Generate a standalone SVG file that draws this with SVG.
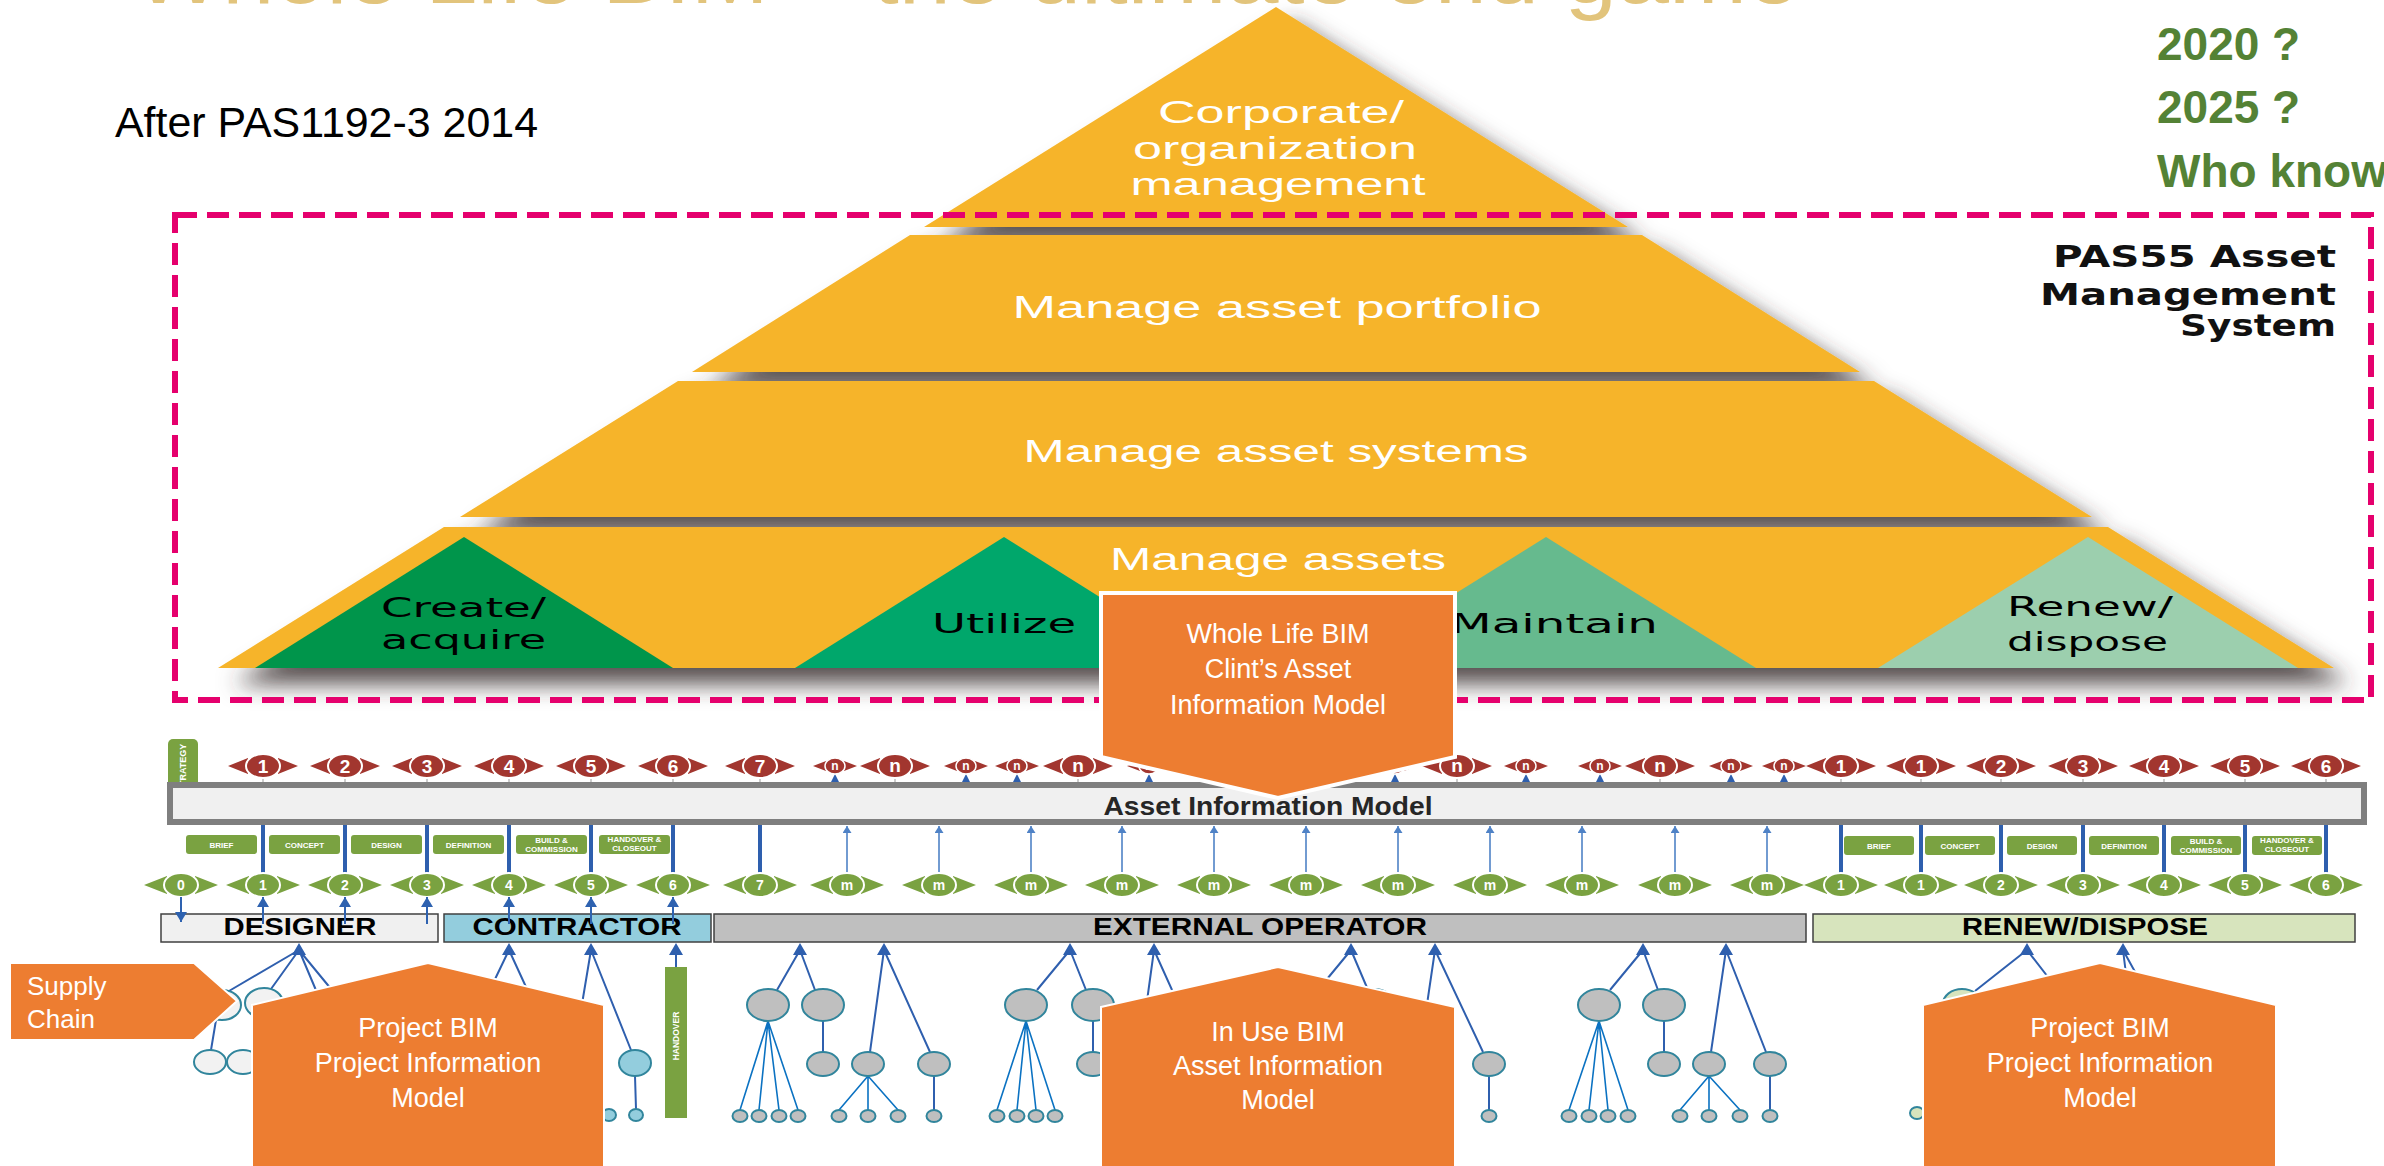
<svg xmlns="http://www.w3.org/2000/svg" width="2384" height="1166" viewBox="0 0 2384 1166">
<style>
.py{fill:#f6b42a}
.wt{fill:#fff;font-family:'Liberation Sans',Arial,sans-serif;font-size:31px}
.bk{fill:#000;font-family:'DejaVu Sans',Verdana,sans-serif;font-size:26px}
.pas{fill:#111;font-family:'DejaVu Sans',Verdana,sans-serif;font-size:30px;font-weight:bold;text-anchor:end}
.yr{fill:#548235;font-family:'Liberation Sans',Arial,sans-serif;font-size:46px;font-weight:bold}
.rn{fill:#fff;font-family:'Liberation Sans',Arial,sans-serif;font-size:19px;font-weight:bold;text-anchor:middle}
.rsn{fill:#fff;font-family:'Liberation Sans',Arial,sans-serif;font-size:12px;font-weight:bold;text-anchor:middle}
.gn{fill:#fff;font-family:'Liberation Sans',Arial,sans-serif;font-size:14px;font-weight:bold;text-anchor:middle}
.gl{fill:#fff;font-family:'Liberation Sans',Arial,sans-serif;font-size:8px;font-weight:bold;text-anchor:middle}
.lab{fill:#7aa241}
.role{fill:#000;font-family:'Liberation Sans',Arial,sans-serif;font-size:23px;font-weight:bold;text-anchor:middle}
.rbar{stroke:#404040;stroke-width:1.5}
.thk{stroke:#2e5fae;stroke-width:4;fill:none}
.thn{stroke:#4f82c6;stroke-width:1.6;fill:none}
.arr{stroke:#2e62b0;stroke-width:2;fill:none}
.tl{stroke:#2f5fae;stroke-width:2;fill:none}
.fl{stroke:#0b72c2;stroke-width:1.6;fill:none}
.ah{fill:#2e5fae}
.eo{fill:#bfbfbf;stroke:#31859c;stroke-width:2}
.ds{fill:#f2f2f2;stroke:#31859c;stroke-width:2}
.ct{fill:#93cddd;stroke:#31859c;stroke-width:2}
.rd{fill:#d7e4bd;stroke:#31859c;stroke-width:2}
.or{fill:#ed7d31;stroke:#fff;stroke-width:2}
.ot{fill:#fff;font-family:'Liberation Sans',Arial,sans-serif;font-size:27px;text-anchor:middle}
</style>
<defs>
<filter id="sh" x="-5%" y="-5%" width="112%" height="118%">
<feGaussianBlur in="SourceAlpha" stdDeviation="11"/>
<feOffset dx="16" dy="16" result="b"/>
<feFlood flood-color="#3a3030" flood-opacity="0.85"/>
<feComposite in2="b" operator="in"/>
<feMerge><feMergeNode/><feMergeNode in="SourceGraphic"/></feMerge>
</filter>
<marker id="ah" markerUnits="userSpaceOnUse" markerWidth="7" markerHeight="9" viewBox="0 0 7 9" refX="7" refY="4.5" orient="auto"><path d="M0,0 L7,4.5 L0,9 Z" fill="#4f82c6"/></marker>
<marker id="ah2" markerUnits="userSpaceOnUse" markerWidth="10" markerHeight="12" viewBox="0 0 10 12" refX="10" refY="6" orient="auto"><path d="M0,0 L10,6 L0,12 Z" fill="#2e62b0"/></marker>
<g id="rb"><path d="M-35,0 L-15,-8 L-15,8 Z M35,0 L15,-8 L15,8 Z" fill="#a2362f"/><ellipse rx="17" ry="12" fill="#a2362f" stroke="#fff" stroke-width="2"/></g>
<g id="rs"><path d="M-22,0 L-9,-5 L-9,5 Z M22,0 L9,-5 L9,5 Z" fill="#a2362f"/><ellipse rx="10" ry="8" fill="#a2362f" stroke="#fff" stroke-width="1.5"/></g>
<g id="gm"><path d="M-37,0 L-14,-9 L-14,9 Z M37,0 L14,-9 L14,9 Z" fill="#7aa241"/><ellipse rx="17" ry="12" fill="#7aa241" stroke="#fff" stroke-width="2"/></g>
</defs>
<rect width="2384" height="1166" fill="#fff"/>

<g id="title">
<text x="134" y="3" font-family="'Liberation Sans',Arial,sans-serif" font-size="88" fill="#e2c47c" textLength="1665" lengthAdjust="spacingAndGlyphs">Whole Life BIM – the ultimate end game</text>
<text x="115" y="137" font-family="'Liberation Sans',Arial,sans-serif" font-size="42" fill="#000" textLength="423" lengthAdjust="spacingAndGlyphs">After PAS1192-3 2014</text>
<text class="yr" x="2157" y="60">2020 ?</text>
<text class="yr" x="2157" y="123">2025 ?</text>
<text class="yr" x="2157" y="187">Who know</text>
</g>

<g id="pyramid" filter="url(#sh)">
<polygon class="py" points="1276,7 1628,227 924,227"/>
<polygon class="py" points="910,235 1642,235 1860,372 692,372"/>
<polygon class="py" points="678,381 1874,381 2092,517 460,517"/>
<polygon class="py" points="444,527 2108,527 2334,668 218,668"/>
</g>
<g id="pyramid-text">
<text class="wt" x="1281" y="123" text-anchor="middle" textLength="246" lengthAdjust="spacingAndGlyphs">Corporate/</text>
<text class="wt" x="1275" y="159" text-anchor="middle" textLength="284" lengthAdjust="spacingAndGlyphs">organization</text>
<text class="wt" x="1278" y="195" text-anchor="middle" textLength="295" lengthAdjust="spacingAndGlyphs">management</text>
<text class="wt" x="1277" y="318" text-anchor="middle" font-size="32" textLength="529" lengthAdjust="spacingAndGlyphs">Manage asset portfolio</text>
<text class="wt" x="1276" y="462" text-anchor="middle" font-size="32" textLength="505" lengthAdjust="spacingAndGlyphs">Manage asset systems</text>
<text class="wt" x="1110" y="570" font-size="32" textLength="336" lengthAdjust="spacingAndGlyphs">Manage assets</text>
</g>
<g id="create"><polygon points="464,537 673,668 255,668" fill="#00954b"/>
<text class="bk" x="381" y="617" textLength="165" lengthAdjust="spacingAndGlyphs">Create/</text>
<text class="bk" x="381" y="649" textLength="165" lengthAdjust="spacingAndGlyphs">acquire</text></g>
<g id="utilize"><polygon points="1004,537 1213,668 795,668" fill="#00a76b"/>
<text class="bk" x="932" y="633" textLength="144" lengthAdjust="spacingAndGlyphs">Utilize</text></g>
<g id="maintain"><polygon points="1546,537 1756,668 1336,668" fill="#66ba8e"/>
<text class="bk" x="1450" y="633" textLength="208" lengthAdjust="spacingAndGlyphs">Maintain</text></g>
<g id="renew"><polygon points="2088,537 2298,668 1878,668" fill="#9ccfae"/>
<text class="bk" x="2007" y="616" textLength="166" lengthAdjust="spacingAndGlyphs">Renew/</text>
<text class="bk" x="2007" y="651" textLength="161" lengthAdjust="spacingAndGlyphs">dispose</text></g>

<g id="pas55">
<text class="pas" x="2336" y="267" textLength="283" lengthAdjust="spacingAndGlyphs">PAS55 Asset</text>
<text class="pas" x="2336" y="305" textLength="296" lengthAdjust="spacingAndGlyphs">Management</text>
<text class="pas" x="2336" y="336" textLength="156" lengthAdjust="spacingAndGlyphs">System</text>
<rect x="175" y="215" width="2196" height="485" fill="none" stroke="#e5006d" stroke-width="6" stroke-dasharray="22 10"/>
</g>

<g id="strategy">
<rect x="168" y="739" width="30" height="55" rx="5" fill="#7aa241"/>
<text transform="translate(186,792) rotate(-90)" fill="#fff" font-family="'Liberation Sans',Arial,sans-serif" font-size="9" font-weight="bold">STRATEGY</text>
</g>

<g id="aim">
<rect x="170" y="785" width="2194" height="37" fill="#f0f0f0" stroke="#7f7f7f" stroke-width="6"/>
<text x="1268" y="815" fill="#262626" font-family="'Liberation Sans',Arial,sans-serif" font-size="26" font-weight="bold" text-anchor="middle" textLength="329" lengthAdjust="spacingAndGlyphs">Asset Information Model</text>
</g>

<g id="red-markers">
<path d="M263,778V782 M345,778V782 M427,778V782 M509,778V782 M591,778V782 M673,778V782 M760,778V782 M895,778V782 M1078,778V782 M1457,778V782 M1660,778V782 M1841,778V782 M1921,778V782 M2001,778V782 M2083,778V782 M2164,778V782 M2245,778V782 M2326,778V782" stroke="#999" stroke-width="1"/>
<path class="ah" d="M831,782h8l-4,-8z M962,782h8l-4,-8z M1013,782h8l-4,-8z M1145,782h8l-4,-8z M1391,782h8l-4,-8z M1522,782h8l-4,-8z M1596,782h8l-4,-8z M1727,782h8l-4,-8z M1780,782h8l-4,-8z"/>
<use href="#rb" x="263" y="766"/><text class="rn" x="263" y="773">1</text>
<use href="#rb" x="345" y="766"/><text class="rn" x="345" y="773">2</text>
<use href="#rb" x="427" y="766"/><text class="rn" x="427" y="773">3</text>
<use href="#rb" x="509" y="766"/><text class="rn" x="509" y="773">4</text>
<use href="#rb" x="591" y="766"/><text class="rn" x="591" y="773">5</text>
<use href="#rb" x="673" y="766"/><text class="rn" x="673" y="773">6</text>
<use href="#rb" x="760" y="766"/><text class="rn" x="760" y="773">7</text>
<use href="#rs" x="835" y="766"/><text class="rsn" x="835" y="770">n</text>
<use href="#rb" x="895" y="766"/><text class="rn" x="895" y="772">n</text>
<use href="#rs" x="966" y="766"/><text class="rsn" x="966" y="770">n</text>
<use href="#rs" x="1017" y="766"/><text class="rsn" x="1017" y="770">n</text>
<use href="#rb" x="1078" y="766"/><text class="rn" x="1078" y="772">n</text>
<use href="#rs" x="1149" y="766"/><text class="rsn" x="1149" y="770">n</text>
<use href="#rs" x="1395" y="766"/><text class="rsn" x="1395" y="770">n</text>
<use href="#rb" x="1457" y="766"/><text class="rn" x="1457" y="772">n</text>
<use href="#rs" x="1526" y="766"/><text class="rsn" x="1526" y="770">n</text>
<use href="#rs" x="1600" y="766"/><text class="rsn" x="1600" y="770">n</text>
<use href="#rb" x="1660" y="766"/><text class="rn" x="1660" y="772">n</text>
<use href="#rs" x="1731" y="766"/><text class="rsn" x="1731" y="770">n</text>
<use href="#rs" x="1784" y="766"/><text class="rsn" x="1784" y="770">n</text>
<use href="#rb" x="1841" y="766"/><text class="rn" x="1841" y="773">1</text>
<use href="#rb" x="1921" y="766"/><text class="rn" x="1921" y="773">1</text>
<use href="#rb" x="2001" y="766"/><text class="rn" x="2001" y="773">2</text>
<use href="#rb" x="2083" y="766"/><text class="rn" x="2083" y="773">3</text>
<use href="#rb" x="2164" y="766"/><text class="rn" x="2164" y="773">4</text>
<use href="#rb" x="2245" y="766"/><text class="rn" x="2245" y="773">5</text>
<use href="#rb" x="2326" y="766"/><text class="rn" x="2326" y="773">6</text>
</g>

<g id="stage-labels">
<rect class="lab" x="186" y="835" width="71" height="19" rx="3"/><text class="gl" x="221.5" y="847.5">BRIEF</text>
<rect class="lab" x="269" y="835" width="71" height="19" rx="3"/><text class="gl" x="304.5" y="847.5">CONCEPT</text>
<rect class="lab" x="351" y="835" width="71" height="19" rx="3"/><text class="gl" x="386.5" y="847.5">DESIGN</text>
<rect class="lab" x="433" y="835" width="71" height="19" rx="3"/><text class="gl" x="468.5" y="847.5">DEFINITION</text>
<rect class="lab" x="516" y="835" width="71" height="19" rx="3"/><text class="gl" x="551.5" y="843">BUILD &amp;</text><text class="gl" x="551.5" y="852">COMMISSION</text>
<rect class="lab" x="599" y="835" width="71" height="19" rx="3"/><text class="gl" x="634.5" y="842">HANDOVER &amp;</text><text class="gl" x="634.5" y="851">CLOSEOUT</text>
<rect class="lab" x="1844" y="836" width="70" height="19" rx="3"/><text class="gl" x="1879" y="848.5">BRIEF</text>
<rect class="lab" x="1925" y="836" width="70" height="19" rx="3"/><text class="gl" x="1960" y="848.5">CONCEPT</text>
<rect class="lab" x="2007" y="836" width="70" height="19" rx="3"/><text class="gl" x="2042" y="848.5">DESIGN</text>
<rect class="lab" x="2089" y="836" width="70" height="19" rx="3"/><text class="gl" x="2124" y="848.5">DEFINITION</text>
<rect class="lab" x="2171" y="836" width="70" height="19" rx="3"/><text class="gl" x="2206" y="844">BUILD &amp;</text><text class="gl" x="2206" y="853">COMMISSION</text>
<rect class="lab" x="2252" y="836" width="70" height="19" rx="3"/><text class="gl" x="2287" y="843">HANDOVER &amp;</text><text class="gl" x="2287" y="852">CLOSEOUT</text>
</g>

<g id="connectors">
<path class="thk" d="M263,825V874 M345,825V874 M427,825V874 M509,825V874 M591,825V874 M673,825V874 M760,825V874 M1841,825V874 M1921,825V874 M2001,825V874 M2083,825V874 M2164,825V874 M2245,825V874 M2326,825V874"/>
<line class="thn" x1="847" y1="873" x2="847" y2="826" marker-end="url(#ah)"/>
<line class="thn" x1="939" y1="873" x2="939" y2="826" marker-end="url(#ah)"/>
<line class="thn" x1="1031" y1="873" x2="1031" y2="826" marker-end="url(#ah)"/>
<line class="thn" x1="1122" y1="873" x2="1122" y2="826" marker-end="url(#ah)"/>
<line class="thn" x1="1214" y1="873" x2="1214" y2="826" marker-end="url(#ah)"/>
<line class="thn" x1="1306" y1="873" x2="1306" y2="826" marker-end="url(#ah)"/>
<line class="thn" x1="1398" y1="873" x2="1398" y2="826" marker-end="url(#ah)"/>
<line class="thn" x1="1490" y1="873" x2="1490" y2="826" marker-end="url(#ah)"/>
<line class="thn" x1="1582" y1="873" x2="1582" y2="826" marker-end="url(#ah)"/>
<line class="thn" x1="1675" y1="873" x2="1675" y2="826" marker-end="url(#ah)"/>
<line class="thn" x1="1767" y1="873" x2="1767" y2="826" marker-end="url(#ah)"/>
</g>

<g id="green-markers">
<use href="#gm" x="181" y="885"/><text class="gn" x="181" y="890">0</text>
<use href="#gm" x="263" y="885"/><text class="gn" x="263" y="890">1</text>
<use href="#gm" x="345" y="885"/><text class="gn" x="345" y="890">2</text>
<use href="#gm" x="427" y="885"/><text class="gn" x="427" y="890">3</text>
<use href="#gm" x="509" y="885"/><text class="gn" x="509" y="890">4</text>
<use href="#gm" x="591" y="885"/><text class="gn" x="591" y="890">5</text>
<use href="#gm" x="673" y="885"/><text class="gn" x="673" y="890">6</text>
<use href="#gm" x="760" y="885"/><text class="gn" x="760" y="890">7</text>
<use href="#gm" x="847" y="885"/><text class="gn" x="847" y="890">m</text>
<use href="#gm" x="939" y="885"/><text class="gn" x="939" y="890">m</text>
<use href="#gm" x="1031" y="885"/><text class="gn" x="1031" y="890">m</text>
<use href="#gm" x="1122" y="885"/><text class="gn" x="1122" y="890">m</text>
<use href="#gm" x="1214" y="885"/><text class="gn" x="1214" y="890">m</text>
<use href="#gm" x="1306" y="885"/><text class="gn" x="1306" y="890">m</text>
<use href="#gm" x="1398" y="885"/><text class="gn" x="1398" y="890">m</text>
<use href="#gm" x="1490" y="885"/><text class="gn" x="1490" y="890">m</text>
<use href="#gm" x="1582" y="885"/><text class="gn" x="1582" y="890">m</text>
<use href="#gm" x="1675" y="885"/><text class="gn" x="1675" y="890">m</text>
<use href="#gm" x="1767" y="885"/><text class="gn" x="1767" y="890">m</text>
<use href="#gm" x="1841" y="885"/><text class="gn" x="1841" y="890">1</text>
<use href="#gm" x="1921" y="885"/><text class="gn" x="1921" y="890">1</text>
<use href="#gm" x="2001" y="885"/><text class="gn" x="2001" y="890">2</text>
<use href="#gm" x="2083" y="885"/><text class="gn" x="2083" y="890">3</text>
<use href="#gm" x="2164" y="885"/><text class="gn" x="2164" y="890">4</text>
<use href="#gm" x="2245" y="885"/><text class="gn" x="2245" y="890">5</text>
<use href="#gm" x="2326" y="885"/><text class="gn" x="2326" y="890">6</text>
</g>

<g id="designer"><rect class="rbar" x="161" y="914" width="277" height="28" fill="#f0f0f0"/><text class="role" x="300" y="935" textLength="153" lengthAdjust="spacingAndGlyphs">DESIGNER</text></g>
<g id="contractor"><rect class="rbar" x="444" y="914" width="267" height="28" fill="#93cddd"/><text class="role" x="577" y="935" textLength="209" lengthAdjust="spacingAndGlyphs">CONTRACTOR</text></g>
<g id="external-operator"><rect class="rbar" x="714" y="914" width="1092" height="28" fill="#bfbfbf"/><text class="role" x="1260" y="935" textLength="334" lengthAdjust="spacingAndGlyphs">EXTERNAL OPERATOR</text></g>
<g id="renew-dispose"><rect class="rbar" x="1813" y="914" width="542" height="28" fill="#d7e4bd"/><text class="role" x="2085" y="935" textLength="246" lengthAdjust="spacingAndGlyphs">RENEW/DISPOSE</text></g>

<g id="role-arrows">
<line class="arr" x1="181" y1="897" x2="181" y2="922" marker-end="url(#ah2)"/>
<line class="arr" x1="263" y1="924" x2="263" y2="897" marker-end="url(#ah2)"/>
<line class="arr" x1="345" y1="924" x2="345" y2="897" marker-end="url(#ah2)"/>
<line class="arr" x1="427" y1="924" x2="427" y2="897" marker-end="url(#ah2)"/>
<line class="arr" x1="509" y1="924" x2="509" y2="897" marker-end="url(#ah2)"/>
<line class="arr" x1="591" y1="924" x2="591" y2="897" marker-end="url(#ah2)"/>
<line class="arr" x1="673" y1="924" x2="673" y2="897" marker-end="url(#ah2)"/>
</g>

<g id="trees">
<path class="ah" d="M292,955h14l-7,-12z M502,955h14l-7,-12z M584,955h14l-7,-12z M669,955h14l-7,-12z M793,955h14l-7,-12z M877,955h14l-7,-12z M1063,955h14l-7,-12z M1147,955h14l-7,-12z M1344,955h14l-7,-12z M1428,955h14l-7,-12z M1636,955h14l-7,-12z M1719,955h14l-7,-12z M2020,955h14l-7,-12z M2116,955h14l-7,-12z"/>
<path class="tl" d="M299,950 L229,991 M299,950 L271,989 M299,950 L318,995 M299,950 L336,995 M216,1020 L211,1050"/>
<ellipse class="ds" cx="222" cy="1005" rx="19" ry="15"/><ellipse class="ds" cx="264" cy="1003" rx="19" ry="15"/>
<ellipse class="ds" cx="210" cy="1062" rx="16" ry="12"/><ellipse class="ds" cx="243" cy="1062" rx="16" ry="12"/>
<path class="tl" d="M509,950 L485,1000 M509,950 L532,1000 M591,950 L581,1010 M591,950 L631,1050 M635,1076 L636,1109 M676,967 V950"/>
<ellipse class="ct" cx="635" cy="1063" rx="16" ry="13"/><ellipse class="ct" cx="636" cy="1115" rx="7" ry="6"/><ellipse class="ct" cx="609" cy="1115" rx="7" ry="6"/>
<rect x="665" y="967" width="22" height="151" fill="#7aa241"/>
<text transform="translate(679,1036) rotate(-90)" fill="#fff" font-family="'Liberation Sans',Arial,sans-serif" font-size="8.5" font-weight="bold" text-anchor="middle">HANDOVER</text>

<path class="tl" d="M800,950 L777,990 M800,950 L815,990 M823,1021 V1052 M884,950 L870,1052 M884,950 L930,1052 M934,1076 V1110"/>
<path class="fl" d="M768,1021 L740,1110 M768,1021 L759,1110 M768,1021 L779,1110 M768,1021 L798,1110 M868,1076 L839,1110 M868,1076 V1110 M868,1076 L898,1110"/>
<ellipse class="eo" cx="768" cy="1005" rx="21" ry="16"/><ellipse class="eo" cx="823" cy="1005" rx="21" ry="16"/>
<ellipse class="eo" cx="823" cy="1064" rx="16" ry="12"/><ellipse class="eo" cx="868" cy="1064" rx="16" ry="12"/><ellipse class="eo" cx="934" cy="1064" rx="16" ry="12"/>
<ellipse class="eo" cx="740" cy="1116" rx="7.5" ry="6"/><ellipse class="eo" cx="759" cy="1116" rx="7.5" ry="6"/><ellipse class="eo" cx="779" cy="1116" rx="7.5" ry="6"/><ellipse class="eo" cx="798" cy="1116" rx="7.5" ry="6"/>
<ellipse class="eo" cx="839" cy="1116" rx="7.5" ry="6"/><ellipse class="eo" cx="868" cy="1116" rx="7.5" ry="6"/><ellipse class="eo" cx="898" cy="1116" rx="7.5" ry="6"/><ellipse class="eo" cx="934" cy="1116" rx="7.5" ry="6"/>

<path class="tl" d="M1070,950 L1037,990 M1070,950 L1086,990 M1093,1021 V1052 M1154,950 L1140,1052 M1154,950 L1200,1052 M1204,1076 V1110"/>
<path class="fl" d="M1026,1021 L997,1110 M1026,1021 L1017,1110 M1026,1021 L1036,1110 M1026,1021 L1055,1110 M1138,1076 L1109,1110 M1138,1076 V1110 M1138,1076 L1168,1110"/>
<ellipse class="eo" cx="1026" cy="1005" rx="21" ry="16"/><ellipse class="eo" cx="1093" cy="1005" rx="21" ry="16"/>
<ellipse class="eo" cx="1093" cy="1064" rx="16" ry="12"/><ellipse class="eo" cx="1138" cy="1064" rx="16" ry="12"/><ellipse class="eo" cx="1204" cy="1064" rx="16" ry="12"/>
<ellipse class="eo" cx="997" cy="1116" rx="7.5" ry="6"/><ellipse class="eo" cx="1017" cy="1116" rx="7.5" ry="6"/><ellipse class="eo" cx="1036" cy="1116" rx="7.5" ry="6"/><ellipse class="eo" cx="1055" cy="1116" rx="7.5" ry="6"/>

<path class="tl" d="M1351,950 L1318,990 M1351,950 L1368,990 M1435,950 L1420,1052 M1435,950 L1483,1052 M1489,1076 V1110"/>
<ellipse class="eo" cx="1310" cy="1005" rx="21" ry="16"/><ellipse class="eo" cx="1374" cy="1005" rx="21" ry="16"/>
<ellipse class="eo" cx="1418" cy="1064" rx="16" ry="12"/><ellipse class="eo" cx="1489" cy="1064" rx="16" ry="12"/>
<ellipse class="eo" cx="1489" cy="1116" rx="7.5" ry="6"/>

<path class="tl" d="M1643,950 L1610,990 M1643,950 L1658,990 M1664,1021 V1052 M1726,950 L1711,1052 M1726,950 L1766,1052 M1770,1076 V1110"/>
<path class="fl" d="M1599,1021 L1569,1110 M1599,1021 L1589,1110 M1599,1021 L1608,1110 M1599,1021 L1628,1110 M1709,1076 L1680,1110 M1709,1076 V1110 M1709,1076 L1740,1110"/>
<ellipse class="eo" cx="1599" cy="1005" rx="21" ry="16"/><ellipse class="eo" cx="1664" cy="1005" rx="21" ry="16"/>
<ellipse class="eo" cx="1664" cy="1064" rx="16" ry="12"/><ellipse class="eo" cx="1709" cy="1064" rx="16" ry="12"/><ellipse class="eo" cx="1770" cy="1064" rx="16" ry="12"/>
<ellipse class="eo" cx="1569" cy="1116" rx="7.5" ry="6"/><ellipse class="eo" cx="1589" cy="1116" rx="7.5" ry="6"/><ellipse class="eo" cx="1608" cy="1116" rx="7.5" ry="6"/><ellipse class="eo" cx="1628" cy="1116" rx="7.5" ry="6"/>
<ellipse class="eo" cx="1680" cy="1116" rx="7.5" ry="6"/><ellipse class="eo" cx="1709" cy="1116" rx="7.5" ry="6"/><ellipse class="eo" cx="1740" cy="1116" rx="7.5" ry="6"/><ellipse class="eo" cx="1770" cy="1116" rx="7.5" ry="6"/>

<path class="tl" d="M2027,950 L1975,991 M2027,950 L2058,990 M2123,950 L2128,990 M2123,950 L2145,990"/>
<ellipse class="rd" cx="1962" cy="1004" rx="19" ry="15"/><ellipse class="rd" cx="1917" cy="1113" rx="7" ry="6"/>
</g>

<g id="whole-life-callout">
<polygon points="1101,593 1455,593 1455,757 1278,798 1101,757" fill="#ed7d31" stroke="#fff" stroke-width="4"/>
<text class="ot" x="1278" y="643">Whole Life BIM</text>
<text class="ot" x="1278" y="678">Clint’s Asset</text>
<text class="ot" x="1278" y="714">Information Model</text>
</g>
<g id="supply-chain">
<polygon class="or" points="10,963 194,963 237,1001 194,1040 10,1040"/>
<text x="27" y="995" fill="#fff" font-family="'Liberation Sans',Arial,sans-serif" font-size="26">Supply</text>
<text x="27" y="1028" fill="#fff" font-family="'Liberation Sans',Arial,sans-serif" font-size="26">Chain</text>
</g>
<g id="project-bim-left">
<polygon class="or" points="252,1005 428,963 604,1005 604,1170 252,1170"/>
<text class="ot" x="428" y="1037" font-size="28">Project BIM</text>
<text class="ot" x="428" y="1072" font-size="28">Project Information</text>
<text class="ot" x="428" y="1107" font-size="28">Model</text>
</g>
<g id="in-use-bim">
<polygon class="or" points="1101,1007 1278,967 1455,1007 1455,1170 1101,1170"/>
<text class="ot" x="1278" y="1041" font-size="28">In Use BIM</text>
<text class="ot" x="1278" y="1075" font-size="28">Asset Information</text>
<text class="ot" x="1278" y="1109" font-size="28">Model</text>
</g>
<g id="project-bim-right">
<polygon class="or" points="1923,1005 2100,963 2276,1005 2276,1170 1923,1170"/>
<text class="ot" x="2100" y="1037" font-size="28">Project BIM</text>
<text class="ot" x="2100" y="1072" font-size="28">Project Information</text>
<text class="ot" x="2100" y="1107" font-size="28">Model</text>
</g>
</svg>
